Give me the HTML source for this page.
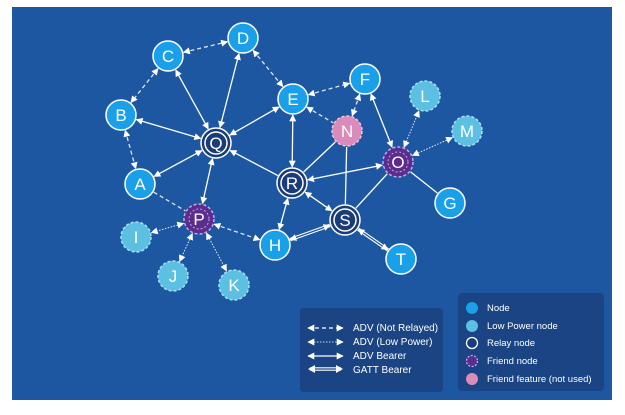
<!DOCTYPE html>
<html><head><meta charset="utf-8"><style>
html,body{margin:0;padding:0;background:#fff;width:625px;height:415px;overflow:hidden}
svg{display:block}
text{font-family:"Liberation Sans",sans-serif}
</style></head><body>
<svg id="s" width="625" height="415" viewBox="0 0 625 415" xmlns="http://www.w3.org/2000/svg">
<defs>
<marker id="ah" viewBox="0 0 10 10" refX="9" refY="5" markerWidth="7" markerHeight="7" orient="auto-start-reverse" markerUnits="userSpaceOnUse"><path d="M0,0 L10,5 L0,10 z" fill="#fff"/></marker>
</defs>
<rect x="12" y="7" width="600" height="393" fill="#1d57a2"/>
<g id="edges"></g>
<g id="nodes"></g>
<rect x="300" y="308" width="143" height="84" rx="4" fill="#1a4483"/>
<rect x="458" y="293" width="146" height="98" rx="4" fill="#1a4483"/>
<g stroke="#fff" stroke-width="1.3">
<line x1="308" y1="328" x2="343" y2="328" stroke-dasharray="4,3" marker-start="url(#ah)" marker-end="url(#ah)"/>
<line x1="308" y1="342" x2="343" y2="342" stroke-dasharray="1.5,1.5" stroke-width="0.8" marker-start="url(#ah)" marker-end="url(#ah)"/>
<line x1="308" y1="356" x2="343" y2="356" marker-start="url(#ah)" marker-end="url(#ah)"/>
<line x1="310" y1="369" x2="341" y2="369" stroke-width="3.5"/>
<line x1="310" y1="369" x2="341" y2="369" stroke="#1a4483" stroke-width="1.3"/>
<path d="M308,369 l7,-4 v8z M343,369 l-7,-4 v8z" fill="#fff" stroke="none"/>
</g>
<g fill="#fff" font-size="10">
<text x="353" y="331">ADV (Not Relayed)</text>
<text x="353" y="345">ADV (Low Power)</text>
<text x="353" y="359">ADV Bearer</text>
<text x="353" y="373">GATT Bearer</text>
</g>
<circle cx="472" cy="308" r="6" fill="#1aa0e8"/>
<circle cx="472" cy="326" r="6" fill="#5cc0e2"/>
<circle cx="472" cy="343" r="5.5" fill="#1a3d7a" stroke="#fff" stroke-width="1.3"/>
<circle cx="472" cy="361" r="5.5" fill="#5b2d8c" stroke="#c9a6e8" stroke-width="1.3" stroke-dasharray="2,1.5"/>
<circle cx="472" cy="379" r="6" fill="#d98cba"/>
<g fill="#fff" font-size="9.5">
<text x="487" y="311">Node</text>
<text x="487" y="329">Low Power node</text>
<text x="487" y="346">Relay node</text>
<text x="487" y="364">Friend node</text>
<text x="487" y="382">Friend feature (not used)</text>
</g>
</svg>
<script>
var N={C:[168,56,'n'],D:[243,38,'n'],B:[121,115,'n'],E:[293,99,'n'],F:[365,79,'n'],Q:[216,143,'r'],A:[140,184,'n'],R:[292,183,'r'],N:[347,131,'k'],O:[398,162,'f'],L:[425,96,'l'],M:[467,131,'l'],G:[450,203,'n'],P:[199,219,'f'],S:[345,220,'r'],H:[275,245,'n'],T:[401,259,'n'],I:[136,237,'l'],J:[173,276,'l'],K:[234,285,'l']};
var E=[['C','D','d',3],['C','B','d',3],['B','A','d',3],['D','E','d',3],['E','F','d',3],['F','N','d',3],['E','N','d',1],
['C','Q','s',3],['D','Q','s',3],['B','Q','s',3],['A','Q','s',3],['E','Q','s',3],['Q','P','s',3],['R','Q','s',2],['E','R','s',3],['R','H','s',3],['R','S','s',3],['R','O','s',3],['F','O','s',3],
['N','R','s',0],['N','S','s',0],['O','S','s',0],['O','G','s',0],['O','L','o',3],['O','M','o',3],['A','P','d',0],['P','I','o',3],['P','J','o',3],['P','K','o',3],['P','H','d',3],['H','S','g',3],['S','T','g',3]];
var ns='http://www.w3.org/2000/svg',eg=document.getElementById('edges'),ng=document.getElementById('nodes');
function el(t,a,p){var e=document.createElementNS(ns,t);for(var k in a)e.setAttribute(k,a[k]);p.appendChild(e);return e;}
E.forEach(function(e){var a=N[e[0]],b=N[e[1]],dx=b[0]-a[0],dy=b[1]-a[1],L=Math.hypot(dx,dy),ux=dx/L,uy=dy/L,r=16;
var x1=a[0]+ux*r,y1=a[1]+uy*r,x2=b[0]-ux*r,y2=b[1]-uy*r;
var at={x1:x1,y1:y1,x2:x2,y2:y2,stroke:'#fff','stroke-width':1.3};
if(e[2]=='d'){at['stroke-dasharray']='4,3';at['stroke-opacity']=0.85;}
if(e[2]=='o'){at['stroke-dasharray']='1.5,1.5';at['stroke-width']=0.9;}
if(e[2]=='g'){el('line',{x1:x1,y1:y1,x2:x2,y2:y2,stroke:'#fff','stroke-width':3.5},eg);el('line',{x1:x1,y1:y1,x2:x2,y2:y2,stroke:'#1d57a2','stroke-width':1.3},eg);at['stroke-opacity']=0;}
if(e[3]&1)at['marker-start']='url(#ah)';if(e[3]&2)at['marker-end']='url(#ah)';
el('line',at,eg);});
for(var k in N){var n=N[k],x=n[0],y=n[1],t=n[2];
if(t=='n')el('circle',{cx:x,cy:y,r:15,fill:'#1aa0e8',stroke:'#fff','stroke-width':1.5},ng);
if(t=='l')el('circle',{cx:x,cy:y,r:15,fill:'#5cc0e2',stroke:'#a8e0f2','stroke-width':1.5,'stroke-dasharray':'3,2'},ng);
if(t=='k')el('circle',{cx:x,cy:y,r:15,fill:'#d98cba',stroke:'#f0c0dc','stroke-width':1.5,'stroke-dasharray':'3,2'},ng);
if(t=='f'){el('circle',{cx:x,cy:y,r:15,fill:'#5b2d8c',stroke:'#c9a6e8','stroke-width':1.5,'stroke-dasharray':'3,2'},ng);el('circle',{cx:x,cy:y,r:10,fill:'none',stroke:'#c9a6e8','stroke-width':1,'stroke-dasharray':'2,2'},ng);}
if(t=='r'){el('circle',{cx:x,cy:y,r:15,fill:'#1a3d7a',stroke:'#fff','stroke-width':1.5},ng);el('circle',{cx:x,cy:y,r:11,fill:'none',stroke:'#fff','stroke-width':1.5},ng);}
var tx=el('text',{x:x,y:y+6,'text-anchor':'middle',fill:'#fff','font-size':17},ng);tx.textContent=k;}
</script>
</body></html>
